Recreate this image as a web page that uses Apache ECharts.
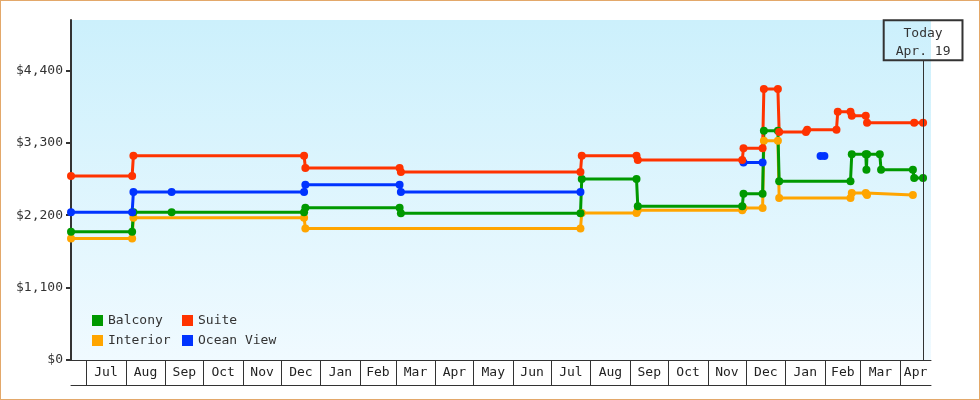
<!DOCTYPE html>
<html>
<head>
<meta charset="utf-8">
<script src="https://cdn.jsdelivr.net/npm/echarts@6/dist/echarts.min.js"></script>
<style>
  html, body { margin: 0; padding: 0; background: #fff; }
  #wrap { position: relative; width: 980px; height: 400px; }
  #chart { position: absolute; left: 0; top: 0; width: 980px; height: 400px; }
  #frame { position: absolute; left: 0; top: 0; width: 980px; height: 400px; box-sizing: border-box; border: 1px solid #e3a86a; pointer-events: none; }
</style>
</head>
<body>
<div id="wrap"><div id="chart"></div><div id="frame"></div></div>
<script>
// ---- Data ----
const xMin = '2021-06-19';
const xMax = '2023-04-25 05:00';
const today = '2023-04-19';
const todayText = ['Today', 'Apr. 19'];

const monthStarts = ['2021-07-01','2021-08-01','2021-09-01','2021-10-01','2021-11-01','2021-12-01',
  '2022-01-01','2022-02-01','2022-03-01','2022-04-01','2022-05-01','2022-06-01','2022-07-01',
  '2022-08-01','2022-09-01','2022-10-01','2022-11-01','2022-12-01','2023-01-01','2023-02-01',
  '2023-03-01','2023-04-01'];
const monthLabels = ['Jul','Aug','Sep','Oct','Nov','Dec','Jan','Feb','Mar','Apr','May','Jun','Jul',
  'Aug','Sep','Oct','Nov','Dec','Jan','Feb','Mar','Apr'];

const yTicks = [0, 1100, 2200, 3300, 4400];
const yMax = 5165;

const interiorDates = ['2021-06-19','2021-08-06','2021-08-07','2021-12-19','2021-12-20','2022-07-24',
  '2022-07-25','2022-09-06','2022-09-07','2022-11-28','2022-11-29','2022-12-14','2022-12-15',
  '2022-12-26','2022-12-27','2023-02-21','2023-02-22','2023-03-05','2023-03-06','2023-04-11'];
const interiorValues = [1847,1847,2162,2162,1999,1999,2233,2233,2273,2273,2309,2309,3332,3332,
  2461,2461,2537,2537,2507,2507];

const balconyDates = ['2021-06-19','2021-08-06','2021-08-07','2021-09-06','2021-12-19','2021-12-20',
  '2022-03-04','2022-03-05','2022-07-24','2022-07-25','2022-09-06','2022-09-07','2022-11-28',
  '2022-11-29','2022-12-14','2022-12-15','2022-12-26','2022-12-27','2023-02-21','2023-02-22',
  '2023-03-05','2023-03-05 12:00','2023-03-06','2023-03-16','2023-03-17','2023-04-11','2023-04-12',
  '2023-04-19'];
const balconyValues = [1949,1949,2243,2243,2243,2314,2314,2228,2228,2750,2750,2334,2334,2527,2527,
  3484,3484,2715,2715,3125,3125,2891,3125,3125,2891,2891,2765,2765];

const oceanDates = ['2021-06-19','2021-08-06','2021-08-07','2021-09-06','2021-12-19','2021-12-20',
  '2022-03-04','2022-03-05','2022-07-24','2022-09-01','2022-11-29','2022-12-14','2023-01-01',
  '2023-01-28 12:00','2023-01-31 12:00'];
const oceanValues = [2243,2243,2552,2552,2552,2663,2663,2552,2552,null,3000,3000,null,3099,3099];

const suiteDates = ['2021-06-19','2021-08-06','2021-08-07','2021-12-19','2021-12-20','2022-03-04',
  '2022-03-05','2022-07-24','2022-07-25','2022-09-06','2022-09-07','2022-11-28','2022-11-29',
  '2022-12-14','2022-12-15','2022-12-26','2022-12-27','2023-01-17','2023-01-18','2023-02-10',
  '2023-02-11','2023-02-21','2023-02-22','2023-03-05','2023-03-06','2023-04-12','2023-04-19'];
const suiteValues = [2796,2796,3104,3104,2917,2917,2856,2856,3104,3104,3039,3039,3218,3218,4117,
  4117,3465,3465,3499,3499,3772,3772,3711,3711,3605,3605,3605];

// ---- Build ----
const P = s => echarts.time.parse(s).getTime();
const pair = (ds, vs) => ds.map((d, i) => [P(d), vs[i]]);
const minT = P(xMin), maxT = P(xMax);
const tickT = monthStarts.map(P);
const labelT = tickT.map((t, i) => (t + (i + 1 < tickT.length ? tickT[i + 1] : maxT)) / 2);
const labelOf = v => {
  let best = 0, bd = Infinity;
  labelT.forEach((t, i) => { const d = Math.abs(t - v); if (d < bd) { bd = d; best = i; } });
  return monthLabels[best];
};
const FONT = 'DejaVu Sans Mono';
const TXT = '#333';

function lineSeries(name, color, data, extra) {
  return Object.assign({
    name, type: 'line', data, color,
    symbol: 'circle', symbolSize: 8, showSymbol: true, showAllSymbol: true,
    connectNulls: false,
    lineStyle: { width: 3, color },
    itemStyle: { color },
    emphasis: { disabled: true },
    animation: false
  }, extra || {});
}

const legendBase = {
  orient: 'vertical', top: 314, padding: 0, itemWidth: 11, itemHeight: 11, itemGap: 7,
  icon: 'rect', textStyle: { fontFamily: FONT, fontSize: 13, color: TXT }, selectedMode: false
};

const chart = echarts.init(document.getElementById('chart'), null, { renderer: 'canvas' });
chart.setOption({
  animation: false,
  grid: {
    left: 71, right: 49, top: 20, bottom: 40, show: true, borderWidth: 0,
    backgroundColor: new echarts.graphic.LinearGradient(0, 0, 0, 1, [
      { offset: 0, color: '#ccf0fc' }, { offset: 1, color: '#f0faff' }
    ])
  },
  legend: [
    Object.assign({ data: ['Balcony', 'Interior'], left: 92 }, legendBase),
    Object.assign({ data: ['Suite', 'Ocean View'], left: 182 }, legendBase)
  ],
  xAxis: [
    { type: 'value', min: minT, max: maxT, position: 'bottom', scale: true,
      splitLine: { show: false },
      axisLine: { show: true, onZero: false, lineStyle: { color: TXT, width: 1 } },
      axisTick: { show: true, inside: false, length: 25, customValues: tickT, lineStyle: { color: TXT, width: 1 } },
      axisLabel: { show: true, customValues: labelT, formatter: v => labelOf(v), margin: 13,
        verticalAlign: 'middle', fontFamily: FONT, fontSize: 13, color: '#222' } },
    { type: 'value', min: minT, max: maxT, position: 'bottom', offset: 25, scale: true,
      splitLine: { show: false }, axisTick: { show: false }, axisLabel: { show: false },
      axisLine: { show: true, onZero: false, lineStyle: { color: TXT, width: 1 } } }
  ],
  yAxis: {
    type: 'value', min: 0, max: yMax,
    splitLine: { show: false },
    axisLine: { show: true, onZero: false, lineStyle: { color: TXT, width: 2 } },
    axisTick: { show: true, length: 5, customValues: yTicks, lineStyle: { color: TXT, width: 2 } },
    axisLabel: { customValues: yTicks, margin: 8, fontFamily: FONT, fontSize: 13, color: TXT,
      formatter: v => '$' + Number(v).toLocaleString('en-US') }
  },
  series: [
    lineSeries('Interior', '#ffa500', pair(interiorDates, interiorValues)),
    lineSeries('Balcony', '#009900', pair(balconyDates, balconyValues)),
    lineSeries('Ocean View', '#0033ff', pair(oceanDates, oceanValues)),
    lineSeries('Suite', '#ff3300', pair(suiteDates, suiteValues), {
      clip: false,
      markLine: {
        silent: true, animation: false, symbol: ['none', 'none'],
        lineStyle: { color: TXT, width: 1, type: 'solid' },
        emphasis: { disabled: true },
        label: { show: true, position: 'end', distance: 0, formatter: todayText.join('\n'),
          fontFamily: FONT, fontSize: 13, color: TXT, lineHeight: 18, align: 'center',
          borderColor: TXT, borderWidth: 1, padding: [4, 12, 0, 12], backgroundColor: 'transparent' },
        data: [[{ coord: [P(today), 0] }, { coord: [P(today), 4555] }]]
      }
    })
  ]
});
</script>
</body>
</html>
